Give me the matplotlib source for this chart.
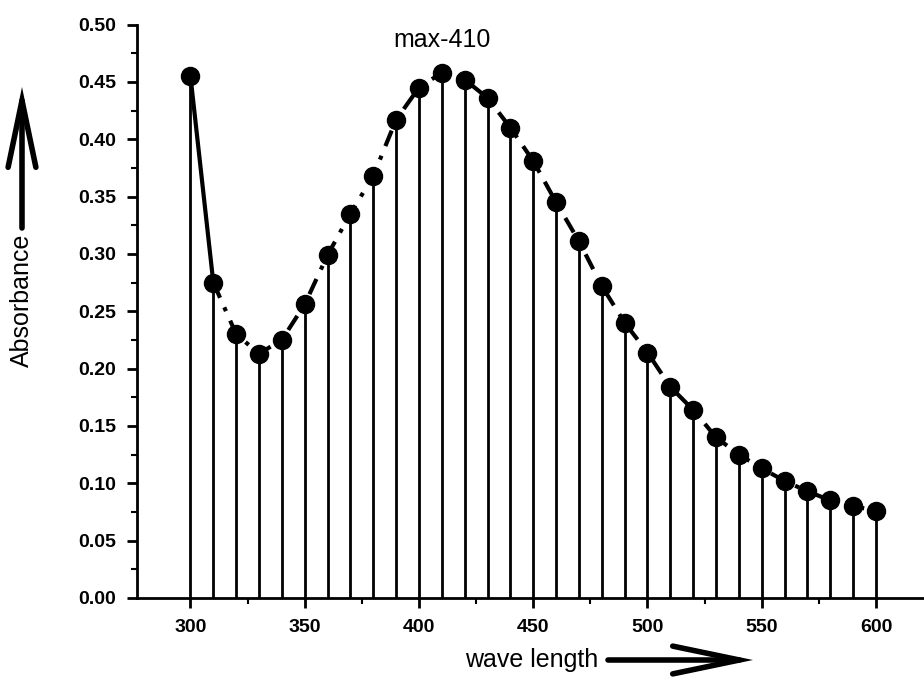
import matplotlib.pyplot as plt
from matplotlib.patches import FancyArrowPatch
from matplotlib.ticker import MultipleLocator

# --- DATA ---
wavelength = [300, 310, 320, 330, 340, 350, 360, 370, 380, 390, 400,
              410, 420, 430, 440, 450, 460, 470, 480, 490, 500,
              510, 520, 530, 540, 550, 560, 570, 580, 590, 600]
absorbance = [0.455, 0.275, 0.230, 0.213, 0.225, 0.256, 0.299, 0.335, 0.368, 0.417, 0.445,
              0.458, 0.452, 0.436, 0.410, 0.381, 0.345, 0.311, 0.272, 0.240, 0.214,
              0.184, 0.164, 0.140, 0.125, 0.113, 0.102, 0.093, 0.085, 0.080, 0.076]
peak_label = "max-410"

plt.rcParams['font.family'] = ['Liberation Sans', 'DejaVu Sans']

fig = plt.figure(figsize=(9.24, 6.81), dpi=100)
ax = fig.add_axes([0.148, 0.122, 0.852, 0.842])

# stems
ax.vlines(wavelength, 0, absorbance, colors='black', linewidth=2)
# connecting line: solid first segment, dash-dot for the rest
ax.plot(wavelength[:2], absorbance[:2], color='black', linewidth=3)
ax.plot(wavelength[1:], absorbance[1:], color='black', linewidth=3,
        linestyle=(0, (4, 2.5, 1, 2.5)))
ax.plot(wavelength, absorbance, 'o', color='black', markersize=13)

ax.text(410, 0.476, peak_label, ha='center', va='bottom', fontsize=18)

ax.set_xlim(276.5, 621)
ax.set_ylim(0, 0.5)
ax.xaxis.set_major_locator(MultipleLocator(50))
ax.xaxis.set_minor_locator(MultipleLocator(25))
ax.yaxis.set_major_locator(MultipleLocator(0.05))
ax.yaxis.set_minor_locator(MultipleLocator(0.025))
ax.set_yticklabels([f"{v:.2f}" for v in ax.get_yticks()])

for s in ['top', 'right']:
    ax.spines[s].set_visible(False)
for s in ['left', 'bottom']:
    ax.spines[s].set_linewidth(2)

ax.tick_params(which='major', direction='out', length=7, width=2,
               labelsize=14, pad=8)
ax.tick_params(which='minor', direction='out', length=4, width=1.5)
for lbl in ax.get_xticklabels() + ax.get_yticklabels():
    lbl.set_fontweight('bold')

# axis labels with hand-drawn style arrows
fig.text(22 / 924, 1 - 300 / 681, "Absorbance", rotation=90,
         ha='center', va='center', fontsize=18)
fig.text(532 / 924, 1 - 660 / 681, "wave length", ha='center', va='center',
         fontsize=18)
arrow_kw = dict(transform=fig.transFigure, mutation_scale=1, linewidth=4,
                color='black', capstyle='round', joinstyle='miter',
                shrinkA=0, shrinkB=0)
fig.patches.append(FancyArrowPatch(
    (22 / 924, 1 - 228 / 681), (22 / 924, 1 - 87 / 681),
    arrowstyle='->,head_length=48,head_width=10', **arrow_kw))
fig.patches.append(FancyArrowPatch(
    (608 / 924, 1 - 660 / 681), (753 / 924, 1 - 660 / 681),
    arrowstyle='->,head_length=48,head_width=10', **arrow_kw))

fig.savefig("out.png", dpi=100)
